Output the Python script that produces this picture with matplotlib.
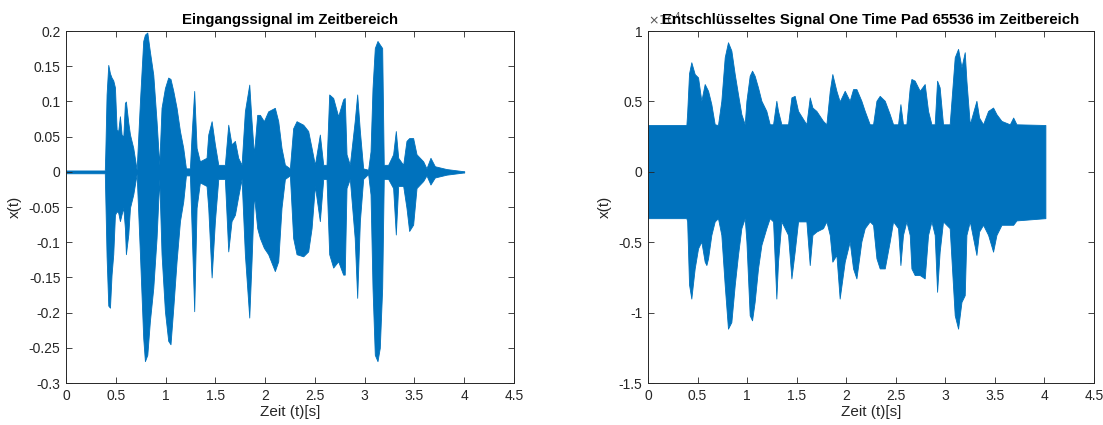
import matplotlib
matplotlib.use("Agg")
import matplotlib.pyplot as plt

plt.rcParams['font.family'] = ['Liberation Sans', 'DejaVu Sans']
plt.rcParams['axes.unicode_minus'] = False

blue = '#0072BD'
dark = '#262626'

# Eingangssignal: envelope (time, upper, lower)
t_in = [0.0, 0.39, 0.395, 0.408, 0.425, 0.442, 0.458, 0.475, 0.492, 0.509, 0.525, 0.542,
        0.559, 0.576, 0.592, 0.602, 0.626, 0.643, 0.676, 0.71, 0.743, 0.776, 0.793, 0.817,
        0.843, 0.877, 0.91, 0.937, 0.96, 0.994, 1.027, 1.05, 1.078, 1.111, 1.145, 1.178,
        1.205, 1.245, 1.262, 1.288, 1.312, 1.345, 1.412, 1.429, 1.463, 1.496, 1.53, 1.596,
        1.63, 1.663, 1.697, 1.73, 1.764, 1.797, 1.841, 1.864, 1.888, 1.921, 1.948, 1.988,
        2.031, 2.098, 2.132, 2.165, 2.199, 2.249, 2.282, 2.316, 2.383, 2.433, 2.467, 2.5,
        2.55, 2.584, 2.617, 2.644, 2.684, 2.734, 2.784, 2.8, 2.818, 2.851, 2.9, 2.925,
        2.952, 2.985, 3.035, 3.059, 3.079, 3.102, 3.129, 3.152, 3.176, 3.192, 3.236, 3.286,
        3.313, 3.337, 3.387, 3.42, 3.447, 3.487, 3.521, 3.588, 3.621, 3.661, 3.705, 3.822,
        3.989, 4.0]
up_in = [0.002, 0.002, 0.027, 0.11, 0.152, 0.14, 0.134, 0.13, 0.12, 0.06, 0.058, 0.079,
         0.053, 0.05, 0.098, 0.1, 0.07, 0.053, 0.034, 0.003, 0.1, 0.186, 0.195, 0.198,
         0.171, 0.138, 0.072, 0.01, 0.091, 0.119, 0.134, 0.132, 0.115, 0.091, 0.058, 0.034,
         0.005, 0.005, 0.053, 0.115, 0.034, 0.015, 0.02, 0.053, 0.072, 0.039, 0.01, 0.01,
         0.067, 0.039, 0.044, 0.02, 0.01, 0.086, 0.124, 0.072, 0.025, 0.081, 0.081, 0.072,
         0.086, 0.091, 0.072, 0.034, 0.01, 0.005, 0.062, 0.072, 0.067, 0.058, 0.034, 0.01,
         0.053, 0.01, 0.01, 0.11, 0.105, 0.079, 0.103, 0.105, 0.025, 0.01, 0.072, 0.11,
         0.058, 0.005, 0.003, 0.029, 0.119, 0.176, 0.186, 0.181, 0.176, 0.01, 0.01, 0.025,
         0.058, 0.02, 0.01, 0.044, 0.048, 0.048, 0.025, 0.015, 0.005, 0.02, 0.008, 0.004,
         0.001, 0.001]
lo_in = [-0.002, -0.002, -0.035, -0.12, -0.19, -0.193, -0.146, -0.117, -0.061, -0.056, -0.058, -0.07,
         -0.06, -0.051, -0.08, -0.117, -0.089, -0.051, -0.032, -0.003, -0.117, -0.236, -0.269, -0.26,
         -0.212, -0.165, -0.094, -0.01, -0.117, -0.198, -0.24, -0.245, -0.193, -0.127, -0.07, -0.042,
         -0.005, -0.005, -0.08, -0.198, -0.051, -0.015, -0.02, -0.051, -0.15, -0.07, -0.01, -0.01,
         -0.113, -0.07, -0.061, -0.035, -0.01, -0.117, -0.207, -0.127, -0.032, -0.08, -0.094, -0.108,
         -0.117, -0.141, -0.127, -0.051, -0.01, -0.005, -0.094, -0.117, -0.12, -0.113, -0.08, -0.02,
         -0.07, -0.01, -0.01, -0.117, -0.136, -0.127, -0.146, -0.146, -0.023, -0.01, -0.094, -0.179,
         -0.07, -0.01, -0.003, -0.032, -0.165, -0.26, -0.269, -0.25, -0.165, -0.01, -0.01, -0.023,
         -0.089, -0.02, -0.02, -0.051, -0.084, -0.075, -0.023, -0.013, -0.005, -0.018, -0.008, -0.004,
         -0.001, -0.001]

# Entschluesseltes Signal (x 10^4): envelope (time, upper, lower)
t_out = [0.0, 0.387, 0.395, 0.414, 0.437, 0.471, 0.505, 0.538, 0.572, 0.589, 0.606, 0.639,
         0.673, 0.706, 0.74, 0.774, 0.807, 0.841, 0.875, 0.908, 0.942, 0.976, 0.993, 1.026,
         1.05, 1.076, 1.11, 1.144, 1.194, 1.228, 1.262, 1.295, 1.312, 1.346, 1.413, 1.447,
         1.48, 1.514, 1.598, 1.632, 1.659, 1.699, 1.766, 1.8, 1.834, 1.86, 1.901, 1.934,
         1.985, 2.035, 2.069, 2.103, 2.153, 2.187, 2.237, 2.271, 2.305, 2.338, 2.389, 2.439,
         2.473, 2.523, 2.547, 2.573, 2.607, 2.641, 2.658, 2.691, 2.742, 2.792, 2.826, 2.86,
         2.893, 2.917, 2.943, 2.977, 3.044, 3.095, 3.129, 3.163, 3.196, 3.213, 3.247, 3.314,
         3.341, 3.381, 3.432, 3.482, 3.516, 3.567, 3.651, 3.685, 3.718, 4.01]
up_out = [0.333, 0.333, 0.42, 0.70, 0.779, 0.695, 0.671, 0.505, 0.624, 0.6, 0.576, 0.481,
          0.338, 0.333, 0.505, 0.814, 0.921, 0.862, 0.695, 0.552, 0.41, 0.338, 0.505, 0.683,
          0.719, 0.683, 0.6, 0.505, 0.433, 0.338, 0.338, 0.505, 0.433, 0.338, 0.338, 0.529,
          0.54, 0.433, 0.338, 0.529, 0.457, 0.433, 0.362, 0.338, 0.576, 0.695, 0.576, 0.5,
          0.576, 0.505, 0.588, 0.588, 0.505, 0.433, 0.338, 0.338, 0.505, 0.54, 0.505, 0.41,
          0.338, 0.338, 0.481, 0.338, 0.338, 0.6, 0.66, 0.648, 0.576, 0.624, 0.433, 0.338,
          0.338, 0.648, 0.6, 0.338, 0.338, 0.814, 0.874, 0.743, 0.85, 0.648, 0.338, 0.505,
          0.386, 0.338, 0.433, 0.457, 0.41, 0.362, 0.338, 0.386, 0.338, 0.333]
lo_out = [-0.329, -0.329, -0.35, -0.80, -0.90, -0.686, -0.543, -0.495, -0.638, -0.662, -0.614, -0.448,
          -0.352, -0.329, -0.448, -0.805, -1.114, -1.067, -0.805, -0.59, -0.4, -0.329, -0.495, -1.019,
          -1.055, -0.924, -0.686, -0.519, -0.4, -0.329, -0.352, -0.9, -0.638, -0.352, -0.448, -0.757,
          -0.567, -0.352, -0.352, -0.662, -0.448, -0.424, -0.4, -0.352, -0.448, -0.638, -0.59, -0.9,
          -0.638, -0.495, -0.686, -0.757, -0.495, -0.4, -0.352, -0.376, -0.614, -0.686, -0.686, -0.495,
          -0.352, -0.4, -0.662, -0.448, -0.352, -0.448, -0.686, -0.733, -0.733, -0.757, -0.448, -0.352,
          -0.448, -0.852, -0.567, -0.352, -0.4, -1.019, -1.114, -0.924, -0.876, -0.448, -0.352, -0.59,
          -0.424, -0.376, -0.448, -0.567, -0.448, -0.376, -0.376, -0.376, -0.345, -0.329]

x_ticks = [0, 0.5, 1, 1.5, 2, 2.5, 3, 3.5, 4, 4.5]
x_labels = ['0', '0.5', '1', '1.5', '2', '2.5', '3', '3.5', '4', '4.5']
y_ticks_in = [0.2, 0.15, 0.1, 0.05, 0, -0.05, -0.1, -0.15, -0.2, -0.25, -0.3]
y_labels_in = ['0.2', '0.15', '0.1', '0.05', '0', '-0.05', '-0.1', '-0.15', '-0.2', '-0.25', '-0.3']
y_ticks_out = [1, 0.5, 0, -0.5, -1, -1.5]
y_labels_out = ['1', '0.5', '0', '-0.5', '-1', '-1.5']

fig = plt.figure(figsize=(11.03, 4.25), dpi=100)
ax1 = fig.add_axes([0.0598, 0.0988, 0.4062, 0.828])
ax2 = fig.add_axes([0.5875, 0.0988, 0.4043, 0.828])


def style(ax, yt, yl, ylim, title):
    ax.set_xlim(0, 4.5)
    ax.set_ylim(*ylim)
    ax.set_xticks(x_ticks)
    ax.set_xticklabels(x_labels)
    ax.set_yticks(yt)
    ax.set_yticklabels(yl)
    ax.tick_params(direction='in', length=4, width=0.6, top=True, right=True,
                   labelsize=10, colors=dark, pad=4)
    for s in ax.spines.values():
        s.set_color(dark)
        s.set_linewidth(0.7)
    ax.set_xlabel('Zeit (t)[s]', fontsize=11, color=dark, labelpad=2)
    ax.set_ylabel('x(t)', fontsize=11, color=dark, labelpad=5)
    ax.set_title(title, fontsize=10.8, fontweight='bold', color='black', pad=5)


ax1.fill_between(t_in, lo_in, up_in, color=blue, linewidth=0.6, edgecolor=blue)
style(ax1, y_ticks_in, y_labels_in, (-0.3, 0.2), 'Eingangssignal im Zeitbereich')

ax2.fill_between(t_out, lo_out, up_out, color=blue, linewidth=0.6, edgecolor=blue)
# exponent label, partly hidden by the title as in the original
ax2.text(0.0, 1.008, r'$\times10^{4}$', transform=ax2.transAxes, fontsize=9,
         color='#555555', ha='left', va='bottom')
style(ax2, y_ticks_out, y_labels_out, (-1.5, 1),
      'Entschlüsseltes Signal One Time Pad 65536 im Zeitbereich')

fig.savefig('out.png', dpi=100)
